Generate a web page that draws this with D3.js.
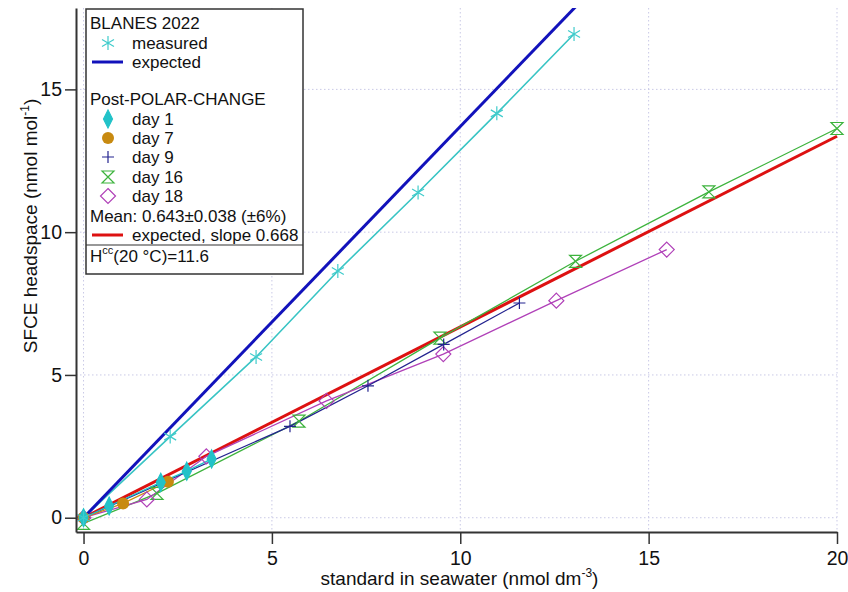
<!DOCTYPE html>
<html>
<head>
<meta charset="utf-8">
<script src="https://cdn.jsdelivr.net/npm/d3@7"></script>
<style>
  body { margin: 0; background: #fff; }
  svg { font-family: "Liberation Sans", Arial, sans-serif; }
</style>
</head>
<body>
<div id="chart"></div>
<script>
// BLANES 2022 standards
let blanesX = [0, 2.30, 4.58, 6.75, 8.88, 10.97, 13.02];
let blanesY = [0, 2.84, 5.63, 8.64, 11.39, 14.16, 16.94];
let blanesExpectedSlope = 1.37;

// Post-POLAR-CHANGE days
let day1X = [0, 0.68, 2.05, 2.74, 3.40];
let day1Y = [0, 0.41, 1.24, 1.63, 2.06];
let day7X = [0, 1.05, 2.24];
let day7Y = [0, 0.50, 1.26];
let day9X = [0, 5.48, 7.55, 9.56, 11.57];
let day9Y = [0, 3.20, 4.62, 6.07, 7.52];
let day16X = [0, 1.95, 5.72, 9.46, 13.06, 16.6, 20];
let day16Y = [-0.2, 0.85, 3.38, 6.29, 8.98, 11.41, 13.63];
let day18X = [0, 1.68, 3.26, 6.45, 9.55, 12.55, 15.48];
let day18Y = [0, 0.64, 2.15, 4.09, 5.73, 7.60, 9.39];
let expectedSlope = 0.668;

let xTicks = [0, 5, 10, 15, 20];
let yTicks = [0, 5, 10, 15];

let width = 848, height = 592;
let plotLeft = 76, plotRight = 837, plotTop = 8, plotBottom = 532;

let svg = d3.select("#chart").append("svg")
  .attr("width", width)
  .attr("height", height);

let x = d3.scaleLinear().domain([-0.2, 20]).range([plotLeft, plotRight]);
let y = d3.scaleLinear().domain([-0.5, 17.85]).range([plotBottom, plotTop]);

// grid
let grid = svg.append("g")
  .attr("stroke", "#c9c9e6")
  .attr("stroke-width", 1)
  .attr("stroke-dasharray", "1.5,2.5");
grid.selectAll(".gx").data(xTicks).enter().append("line")
  .attr("x1", d => x(d)).attr("x2", d => x(d))
  .attr("y1", plotTop).attr("y2", plotBottom);
grid.selectAll(".gy").data(yTicks).enter().append("line")
  .attr("x1", plotLeft).attr("x2", plotRight)
  .attr("y1", d => y(d)).attr("y2", d => y(d));

svg.append("clipPath").attr("id", "clip")
  .append("rect")
  .attr("x", plotLeft).attr("y", plotTop)
  .attr("width", plotRight - plotLeft + 8).attr("height", plotBottom - plotTop);

let plot = svg.append("g").attr("clip-path", "url(#clip)");

let line = d3.line().x(d => x(d[0])).y(d => y(d[1]));
let zip = (xs, ys) => xs.map((v, i) => [v, ys[i]]);

// marker shapes
function markerPath(type) {
  if (type == "asterisk") {
    return "M0,-7L0,7M-6,-3.5L6,3.5M-6,3.5L6,-3.5";
  } else if (type == "diamondTall") {
    return "M0,-9L4.5,0L0,9L-4.5,0Z";
  } else if (type == "plus") {
    return "M0,-6L0,6M-6,0L6,0";
  } else if (type == "hourglass") {
    return "M-6,-6L6,-6L-6,6L6,6Z";
  } else if (type == "diamond") {
    return "M0,-7.5L7.5,0L0,7.5L-7.5,0Z";
  }
  return "";
}

let series = [
  {name: "day 16", xs: day16X, ys: day16Y, color: "#3db33d", marker: "hourglass", fill: "none"},
  {name: "day 18", xs: day18X, ys: day18Y, color: "#b040b8", marker: "diamond", fill: "none"},
  {name: "day 9", xs: day9X, ys: day9Y, color: "#23238f", marker: "plus", fill: "none"},
  {name: "day 7", xs: day7X, ys: day7Y, color: "#c88a10", marker: "circle", fill: "#c88a10"},
  {name: "day 1", xs: day1X, ys: day1Y, color: "#22c2c8", marker: "diamondTall", fill: "#22c2c8"}
];

// expected lines
plot.append("path")
  .datum([[0, 0], [20, 20 * expectedSlope]])
  .attr("d", line)
  .attr("fill", "none")
  .attr("stroke", "#dd1111")
  .attr("stroke-width", 3);

series.forEach(s => {
  plot.append("path")
    .datum(zip(s.xs, s.ys))
    .attr("d", line)
    .attr("fill", "none")
    .attr("stroke", s.color)
    .attr("stroke-width", 1.3);
});

plot.append("path")
  .datum(zip(blanesX, blanesY))
  .attr("d", line)
  .attr("fill", "none")
  .attr("stroke", "#38c4c4")
  .attr("stroke-width", 1.6);

plot.append("path")
  .datum([[0, 0], [18 / blanesExpectedSlope, 18]])
  .attr("d", line)
  .attr("fill", "none")
  .attr("stroke", "#1212bb")
  .attr("stroke-width", 3);

function drawMarkers(g, pts, type, color, fill) {
  if (type == "circle") {
    g.selectAll(null).data(pts).enter().append("circle")
      .attr("cx", d => x(d[0])).attr("cy", d => y(d[1]))
      .attr("r", 6)
      .attr("fill", fill);
  } else {
    g.selectAll(null).data(pts).enter().append("path")
      .attr("transform", d => "translate(" + x(d[0]) + "," + y(d[1]) + ")")
      .attr("d", markerPath(type))
      .attr("fill", fill)
      .attr("stroke", color)
      .attr("stroke-width", 1.2);
  }
}

series.forEach(s => drawMarkers(plot, zip(s.xs, s.ys), s.marker, s.color, s.fill));
drawMarkers(plot, zip(blanesX, blanesY), "asterisk", "#40cccc", "none");

// axes
let xAxis = svg.append("g")
  .attr("transform", "translate(0," + plotBottom + ")")
  .call(d3.axisBottom(x).tickValues(xTicks).tickSize(12).tickSizeOuter(0).tickPadding(7));
let yAxis = svg.append("g")
  .attr("transform", "translate(" + plotLeft + ",0)")
  .call(d3.axisLeft(y).tickValues(yTicks).tickSize(11).tickSizeOuter(0).tickPadding(3));

[xAxis, yAxis].forEach(a => {
  a.select(".domain").attr("stroke", "#333").attr("stroke-width", 2);
  a.selectAll(".tick line").attr("stroke", "#333").attr("stroke-width", 1.5);
  a.selectAll(".tick text")
    .attr("fill", "#111")
    .style("font-size", "19.5px")
    .style("font-family", "Liberation Sans, Arial, sans-serif");
});

// axis titles
let xTitle = svg.append("text")
  .attr("x", (plotLeft + plotRight) / 2 + 3)
  .attr("y", 585)
  .attr("text-anchor", "middle")
  .style("font-size", "19px")
  .attr("fill", "#111");
xTitle.append("tspan").text("standard in seawater (nmol dm");
xTitle.append("tspan").attr("dy", -8).style("font-size", "12px").text("-3");
xTitle.append("tspan").attr("dy", 8).text(")");

let yTitle = svg.append("text")
  .attr("transform", "translate(37,226) rotate(-90)")
  .attr("text-anchor", "middle")
  .style("font-size", "19px")
  .attr("fill", "#111");
yTitle.append("tspan").text("SFCE headspace (nmol mol");
yTitle.append("tspan").attr("dy", -8).style("font-size", "12px").text("-1");
yTitle.append("tspan").attr("dy", 8).text(")");

// legend
let lg = svg.append("g");
lg.append("rect")
  .attr("x", 86).attr("y", 9)
  .attr("width", 217).attr("height", 265)
  .attr("fill", "#fff")
  .attr("stroke", "#333")
  .attr("stroke-width", 1.5);
lg.append("line")
  .attr("x1", 86).attr("x2", 303)
  .attr("y1", 245).attr("y2", 245)
  .attr("stroke", "#333")
  .attr("stroke-width", 1.2);

let legendRows = [
  {y: 23, text: "BLANES 2022", indent: false},
  {y: 43, text: "measured", marker: "asterisk", color: "#40cccc", fill: "none"},
  {y: 62, text: "expected", lineColor: "#1212bb"},
  {y: 99, text: "Post-POLAR-CHANGE", indent: false},
  {y: 119, text: "day 1", marker: "diamondTall", color: "#22c2c8", fill: "#22c2c8"},
  {y: 138, text: "day 7", marker: "circle", color: "#c88a10", fill: "#c88a10"},
  {y: 157, text: "day 9", marker: "plus", color: "#23238f", fill: "none"},
  {y: 177, text: "day 16", marker: "hourglass", color: "#3db33d", fill: "none"},
  {y: 196, text: "day 18", marker: "diamond", color: "#b040b8", fill: "none"},
  {y: 216, text: "Mean: 0.643\u00b10.038 (\u00b16%)", indent: false},
  {y: 235, text: "expected, slope 0.668", lineColor: "#dd1111"}
];

legendRows.forEach(r => {
  let tx = (r.indent === false) ? 90 : 132;
  lg.append("text")
    .attr("x", tx).attr("y", r.y)
    .attr("dy", "0.36em")
    .style("font-size", "17px")
    .attr("fill", "#111")
    .text(r.text);
  if (r.lineColor) {
    lg.append("line")
      .attr("x1", 92).attr("x2", 123)
      .attr("y1", r.y).attr("y2", r.y)
      .attr("stroke", r.lineColor)
      .attr("stroke-width", 3);
  }
  if (r.marker == "circle") {
    lg.append("circle").attr("cx", 108).attr("cy", r.y).attr("r", 6).attr("fill", r.fill);
  } else if (r.marker) {
    lg.append("path")
      .attr("transform", "translate(108," + r.y + ")")
      .attr("d", markerPath(r.marker))
      .attr("fill", r.fill)
      .attr("stroke", r.color)
      .attr("stroke-width", 1.2);
  }
});

let hcc = lg.append("text")
  .attr("x", 90).attr("y", 256)
  .attr("dy", "0.36em")
  .style("font-size", "17px")
  .attr("fill", "#111");
hcc.append("tspan").text("H");
hcc.append("tspan").attr("dy", -8).style("font-size", "11px").text("cc");
hcc.append("tspan").attr("dy", 8).text("(20 \u00b0C)=11.6");
</script>
</body>
</html>
